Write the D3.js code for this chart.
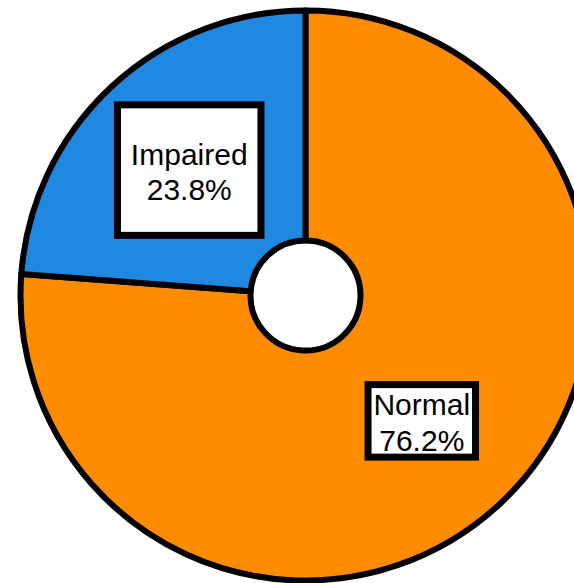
<!DOCTYPE html>
<html>
<head>
<meta charset="utf-8">
<script src="https://cdn.jsdelivr.net/npm/d3@7"></script>
<style>
  html, body { margin: 0; padding: 0; background: #fff; }
  svg { display: block; }
</style>
</head>
<body>
<svg id="chart" width="574" height="583"></svg>
<script>
// Share of subjects by status
const categories = ["Normal", "Impaired"];
const values = [76.2, 23.8];
const percentLabels = ["76.2%", "23.8%"];

const colors = { Normal: "#ff8c00", Impaired: "#2088e0" };
// Label box sizes (width, height) per category
const boxSize = { Normal: [107.5, 72.5], Impaired: [143.5, 130.5] };

const width = 574, height = 583;
const cx = 305.5, cy = 295.5;
const outerR = 285, innerR = 55, labelR = 171;

const svg = d3.select("#chart");
const g = svg.append("g").attr("transform", `translate(${cx},${cy})`);

const data = categories.map((c, i) => ({ name: c, value: values[i], label: percentLabels[i] }));

const pie = d3.pie().sort(null).value(d => d.value);
const arcs = pie(data);

const arc = d3.arc().innerRadius(innerR).outerRadius(outerR);
const labelArc = d3.arc().innerRadius(labelR).outerRadius(labelR);

g.selectAll("path.slice")
  .data(arcs)
  .join("path")
  .attr("class", "slice")
  .attr("d", arc)
  .attr("fill", d => colors[d.data.name])
  .attr("stroke", "#000")
  .attr("stroke-width", 6)
  .attr("stroke-linejoin", "round");

const labels = g.selectAll("g.label")
  .data(arcs)
  .join("g")
  .attr("class", "label")
  .attr("transform", d => `translate(${labelArc.centroid(d)})`);

labels.append("rect")
  .attr("x", d => -boxSize[d.data.name][0] / 2)
  .attr("y", d => -boxSize[d.data.name][1] / 2)
  .attr("width", d => boxSize[d.data.name][0])
  .attr("height", d => boxSize[d.data.name][1])
  .attr("fill", "#fff")
  .attr("stroke", "#000")
  .attr("stroke-width", 7);

const text = labels.append("text")
  .attr("text-anchor", "middle")
  .attr("font-family", "'Liberation Sans', Arial, Helvetica, sans-serif")
  .attr("font-size", 30)
  .attr("fill", "#000");

text.append("tspan").attr("x", 0).attr("y", -5.5).text(d => d.data.name);
text.append("tspan").attr("x", 0).attr("y", 30).text(d => d.data.label);
</script>
</body>
</html>
